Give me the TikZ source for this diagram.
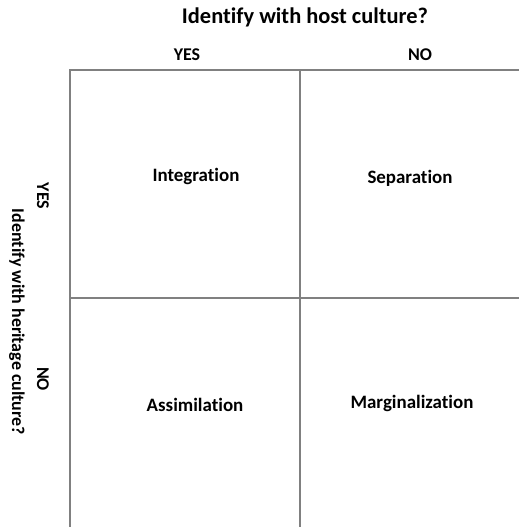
\documentclass[tikz,border=0pt]{standalone}
\usepackage{fontspec}
\setmainfont{Carlito}[Ligatures=NoCommon]
\begin{document}
\begin{tikzpicture}[x=1bp,y=-1bp,
  grid/.style={draw=black!50,line width=1.5bp},
  head/.style={font=\bfseries\fontsize{22.5}{26}\selectfont,inner sep=0},
  vhead/.style={font=\bfseries\fontsize{18}{21}\selectfont,inner sep=0},
  lab/.style={font=\bfseries\fontsize{18}{21}\selectfont,inner sep=0},
  cell/.style={font=\bfseries\fontsize{19}{22}\selectfont,inner sep=0}]
\useasboundingbox (0,0) rectangle (519,527);
\coordinate (tl) at (70,70);
\coordinate (tr) at (519,70);
\coordinate (bl) at (70,527);
\coordinate (mt) at (300,70);
\coordinate (mb) at (300,527);
\coordinate (ml) at (70,298);
\coordinate (mr) at (519,298);
\draw[grid] (tr) -- (tl) -- (bl);
\draw[grid] (mt) -- (mb);
\draw[grid] (ml) -- (mr);
\node[head] (title) at (305,17) {Identify with host culture?};
\node[lab] (hyes) at (187,55) {YES};
\node[lab] (hno) at (420,55) {NO};
\node[vhead,rotate=-90] (vtitle) at (17,322) {Identify with heritage culture?};
\node[lab,rotate=-90] (vyes) at (43,196) {YES};
\node[lab,rotate=-90] (vno) at (43,379) {NO};
\node[cell] (integ) at (196,176) {Integration};
\node[cell] (sep) at (410,178) {Separation};
\node[cell] (assim) at (195,405) {Assimilation};
\node[cell] (marg) at (412,403) {Marginalization};
\end{tikzpicture}
\end{document}
